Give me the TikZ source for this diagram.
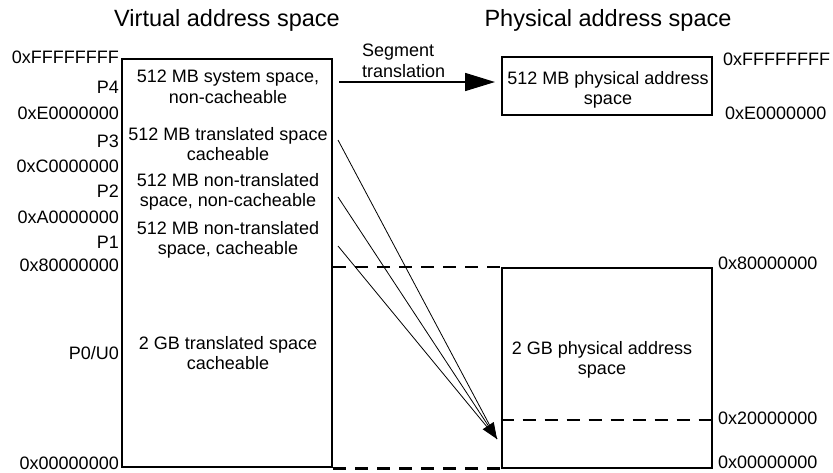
\documentclass[tikz,border=0pt]{standalone}
\usepackage{fontspec}
\setmainfont{Liberation Sans}
\usetikzlibrary{arrows.meta}

\begin{document}
\begin{tikzpicture}[x=1pt,y=-1pt,
		area/.style={draw,line width=2.8pt,minimum width=210pt,inner sep=0pt},
		lbl/.style={font=\fontsize{18}{20.5}\selectfont,inner sep=0pt},
		txt/.style={lbl,align=center},
		ttl/.style={font=\fontsize{23.5}{26}\selectfont,inner sep=0pt},
		bound/.style={line width=2.2pt,dash pattern=on 13pt off 9pt},
		map/.style={line width=0.8pt}]
		\useasboundingbox (0,0) rectangle (833,472);

		% Titles
		\node[ttl] (vtitle) at (227,20) {Virtual address space};
		\node[ttl] (ptitle) at (608,20) {Physical address space};

		% Virtual address space
		\node[area,minimum height=408pt] (vspace) at (227,263) {};
		\node[txt] (p4) at (228,87) {512 MB system space,\\non-cacheable};
		\node[txt] (p3) at (228,144) {512 MB translated space\\cacheable};
		\node[txt] (p2) at (228,192) {512 MB non-translated\\space, non-cacheable};
		\node[txt] (p1) at (228,240) {512 MB non-translated\\space, cacheable};
		\node[txt] (p0) at (228,353) {2 GB translated space\\cacheable};
		\foreach \y/\t [count=\i] in {57/0xFFFFFFFF,87/P4,113/0xE0000000,141/P3,
				166/0xC0000000,191/P2,217/0xA0000000,242/P1,265/0x80000000,
				353/P0\slash U0,463/0x00000000}
			\node[lbl,anchor=east] (vl\i) at (119,\y) {\t};

		% Physical address space
		\node[area,minimum height=58pt] (phigh) at (607,86) {};
		\node[txt] (phightxt) at (608,90) {512 MB physical address\\space};
		\node[area,minimum height=200pt] (plow) at (607,368) {};
		\node[txt] (plowtxt) at (602,360) {2 GB physical address\\space};
		\foreach \x/\y/\t [count=\i] in {723/59/0xFFFFFFFF,725/113/0xE0000000,
				718/263/0x80000000,718/418/0x20000000,718/462/0x00000000}
			\node[lbl,anchor=west] (pl\i) at (\x,\y) {\t};

		% Segment translation of P4
		\coordinate (s4) at (339,82);
		\coordinate (t4) at (495,82);
		\draw[line width=1.6pt,-{Triangle[length=30pt,width=18pt]}] (s4) -- (t4);
		\node[lbl,align=left,anchor=west] (seg) at (362,61) {Segment\\translation};

		% P1, P2, P3 into the low physical area
		\coordinate (s3) at (338,140);
		\coordinate (s2) at (338,197);
		\coordinate (s1) at (338,246);
		\coordinate (tip) at (497,439);
		\draw[map] (s3) -- (tip);
		\draw[map] (s1) -- (tip);
		\draw[map,-{Triangle[length=16pt,width=13pt]}] (s2) -- (tip);

		% Dashed bounds
		\coordinate (v80) at (vspace.east |- 0,267);
		\draw[bound] (v80) -- (v80 -| plow.west);
		\draw[bound] (vspace.south east) -- (vspace.south east -| plow.west);
		\coordinate (p20) at (plow.west |- 0,420);
		\draw[bound] (p20) -- (p20 -| plow.east);
	\end{tikzpicture}
\end{document}
